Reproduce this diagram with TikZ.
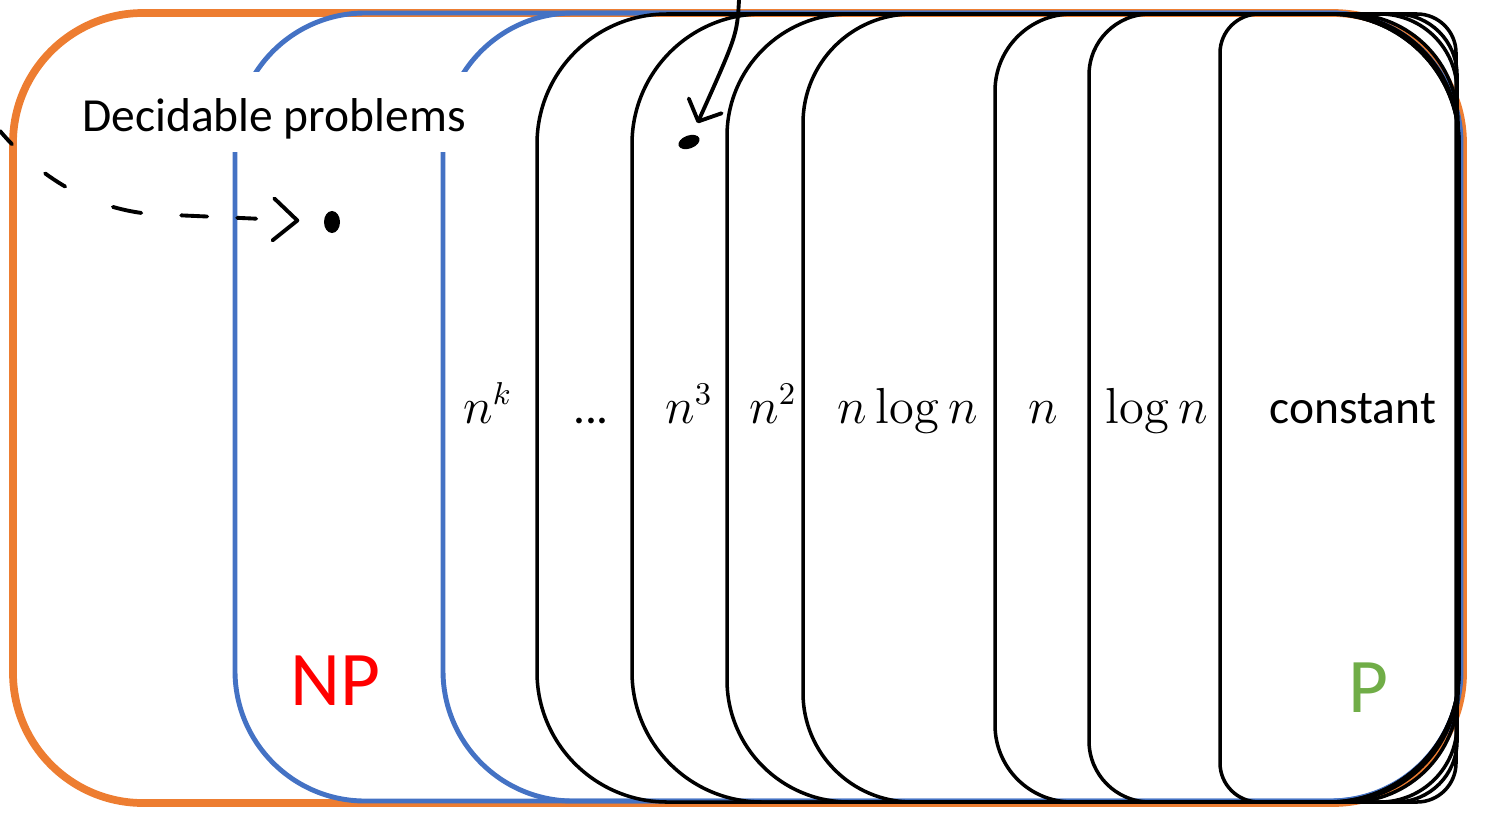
\documentclass[tikz,border=0pt]{standalone}
\usepackage[no-math]{fontspec}
\setmainfont{Carlito}
\usetikzlibrary{arrows.meta,shapes.geometric}
\definecolor{dorange}{HTML}{ED7D31}
\definecolor{npblue}{HTML}{4472C4}
\definecolor{pgreen}{HTML}{70AD47}
\definecolor{npred}{HTML}{FF0000}

\begin{document}
\begin{tikzpicture}[x=0.01cm, y=-0.01cm,
  dec/.style={draw=dorange, line width=2.2pt},
  npc/.style={draw=npblue, line width=1.4pt},
  pc/.style={draw=black, line width=1pt},
  lbl/.style={anchor=base, font=\fontsize{13.5}{16}\selectfont},
  big/.style={anchor=base, font=\fontsize{22}{26}\selectfont},
  ink/.style={line width=1.1pt, line cap=round, line join=round},
  blob/.style={ellipse, fill=black, inner sep=0pt}]
\useasboundingbox (0,0) rectangle (1486,815);
% nested classes, outer to inner
\draw[dec, rounded corners=1.30cm] (13,13) rectangle (1463,803);
\foreach \l/\r in {235/1461, 443/1460}
  \draw[npc, rounded corners=1.30cm] (\l,13) rectangle (\r,801);
\foreach \l/\r/\rad in {537/1459/1.30, 632/1459/1.30, 727/1458/1.22, 803/1458/1.09,
                        995/1457/0.77, 1089/1457/0.61, 1220/1456/0.39}
  \draw[pc, rounded corners=\rad cm] (\l,14) rectangle (\r,802);
% titles
\node[fill=white, anchor=base, inner sep=0pt, inner xsep=0.1cm, text height=0.59cm, text depth=0.21cm,
  font=\fontsize{13.5}{16}\selectfont] (dec) at (274,131) {Decidable problems};
\node[big, text=npred] (np) at (335,705) {NP};
\node[big, text=pgreen] (pp) at (1368,712) {P};
% running times
\node[lbl] (nk) at (488,423) {$n^k$};
\node[lbl] (etc) at (591,423) {...};
\node[lbl] (cube) at (689,423) {$n^3$};
\node[lbl] (sq) at (773,423) {$n^2$};
\node[lbl] (nlogn) at (908,423) {$n\log n$};
\node[lbl] (lin) at (1043,423) {$n$};
\node[lbl] (logn) at (1157,423) {$\log n$};
\node[lbl] (const) at (1353,423) {constant};
% pen marks
\node[blob, minimum width=0.16cm, minimum height=0.22cm] (spot1) at (332,222) {};
\node[blob, minimum width=0.22cm, minimum height=0.13cm, rotate=20] (spot2) at (689,142) {};
\coordinate (edge) at (0,131);
\coordinate (top) at (739,0);
\draw[ink, dash pattern=on 0.18cm off 0.44cm on 0.24cm off 0.52cm on 0.29cm off 0.40cm on 0.26cm off 0.30cm on 0.19cm off 1cm,
  -{Straight Barb[length=0.24cm, width=0.42cm, round]}, shorten >=0.24cm]
  (edge) .. controls (40,178) and (90,208) .. (150,214) -- (spot1);
\draw[ink, -{Straight Barb[length=0.17cm, width=0.36cm, round]}, shorten >=0.12cm]
  (top) .. controls (737,35) .. (spot2);
\end{tikzpicture}
\end{document}
